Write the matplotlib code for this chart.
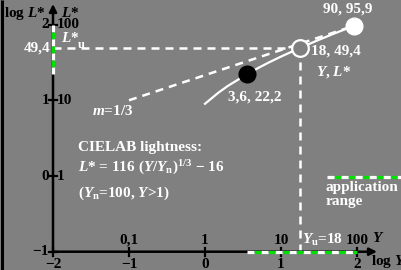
import numpy as np
import matplotlib.pyplot as plt

BG = "#808080"
GREEN = "#00e000"

plt.rcParams["font.family"] = "Liberation Serif"
plt.rcParams["font.weight"] = "bold"
plt.rcParams["font.size"] = 11
plt.rcParams["mathtext.fontset"] = "custom"
plt.rcParams["mathtext.rm"] = "Liberation Serif:bold"
plt.rcParams["mathtext.it"] = "Liberation Serif:italic:bold"
plt.rcParams["mathtext.bf"] = "Liberation Serif:bold"

# axes ticks (log units) and labels
log_y_ticks = [-2, -1, 0, 1, 2]
y_top_labels = ["0,1", "1", "10", "100"]          # at log Y = -1 .. 2
log_l_ticks = [-1, 0, 1, 2]
l_right_labels = ["1", "10", "100"]               # at log L* = 0 .. 2

# CIELAB lightness curve
curve_Y = [1, 1.5, 2, 3.6, 5, 7, 10, 18, 30, 50, 90, 100]
curve_L = [9.0, 12.6, 15.5, 22.2, 26.7, 31.8, 37.8, 49.4, 61.7, 76.1, 95.9, 100]

# straight line with slope m = 1/3
slope_Y = [0.1, 90]
slope_L = [10.0, 95.9]

# marked points: dark, middle (Yu), white
pt_Y = [3.6, 18, 90]
pt_L = [22.2, 49.4, 95.9]

# application range
app_Y = [3.6, 100]
app_L = [22.2, 100]

lg = np.log10


# pixel -> data helpers for text placement
def px(x):
    return (x - 205) / 76


def py(y):
    return (176 - y) / 75.7


fig = plt.figure(figsize=(4.02, 2.70), dpi=100, facecolor=BG)
ax = fig.add_axes([0, 0, 1, 1])
ax.set_facecolor(BG)
ax.set_xlim(px(0), px(402))
ax.set_ylim(py(270), py(0))
ax.axis("off")

# left border
ax.plot([px(1.5), px(1.5)], [py(0), py(270)], color="black", lw=2.2, solid_capstyle="butt")

# dashed helper lines through Yu point
dash = (0, (3.2, 2.4))
ax.plot([-2, lg(pt_Y[1])], [lg(pt_L[1])] * 2, color="white", lw=1.8, ls=dash)
ax.plot([lg(pt_Y[1])] * 2, [-1, lg(pt_L[1])], color="white", lw=1.8, ls=dash)
ax.plot(lg(slope_Y), lg(slope_L), color="white", lw=1.8, ls=dash)

# lightness curve
ax.plot(lg(curve_Y), lg(curve_L), color="white", lw=1.6)

# axes with arrows
ax.annotate("", xy=(-2, py(4)), xytext=(-2, -1),
            arrowprops=dict(arrowstyle="-|>", color="black", lw=1.8, mutation_scale=11,
                            shrinkA=0, shrinkB=0))
ax.annotate("", xy=(px(377), -1), xytext=(-2, -1),
            arrowprops=dict(arrowstyle="-|>", color="black", lw=1.8, mutation_scale=11,
                            shrinkA=0, shrinkB=0))
for t in log_y_ticks:
    ax.plot([t, t], [-1 - 0.055, -1 + 0.055], color="black", lw=1.6, zorder=3.5)
for t in log_l_ticks:
    ax.plot([-2 - 0.055, -2 + 0.055], [t, t], color="black", lw=1.6, zorder=3.5)

# application range on both axes
app_style = dict(color="white", gapcolor=GREEN, lw=2.3, ls=(0, (2.2, 2.2)), zorder=4)
ax.plot(lg(app_Y), [-1, -1], **app_style)
ax.plot([-2, -2], lg(app_L), **app_style)
ax.plot([px(327), px(405)], [py(177), py(177)], **app_style)

# points
ax.plot(lg(pt_Y[0]), lg(pt_L[0]), "o", ms=12, mfc="black", mec="black", zorder=5)
ax.plot(lg(pt_Y[1]), lg(pt_L[1]), "o", ms=12, mfc=BG, mec="white", mew=1.6, zorder=5)
ax.plot(lg(pt_Y[2]), lg(pt_L[2]), "o", ms=12, mfc="white", mec="white", zorder=5)

# tick labels
for t, lab in zip(log_y_ticks, ["\u22122", "\u22121", "0", "1", "2"]):
    ax.text(t, py(264), lab, ha="center", va="center")
for t, lab in zip(log_y_ticks[1:], y_top_labels):
    ax.text(t, py(240), lab, ha="center", va="center")
for t, lab in zip(log_l_ticks, ["\u22121", "0", "1", "2"]):
    ax.text(px(49), t, lab, ha="right", va="center")
for t, lab in zip(log_l_ticks[1:], l_right_labels):
    ax.text(px(57), t, lab, ha="left", va="center")

ax.text(px(4), py(13), "log $L$*", ha="left", va="center")
ax.text(px(61), py(13), "$L$*", ha="left", va="center")
ax.text(px(372), py(238), "$Y$", ha="left", va="center")
ax.text(px(371), py(262), "log $Y$", ha="left", va="center")

# white annotations
w = dict(color="white", va="center")
ax.text(px(50), lg(pt_L[1]), "49,4", ha="right", **w)
ax.text(px(61), py(38), "$L$*", ha="left", **w)
ax.text(px(78), py(45), "u", ha="left", fontsize=9, **w)
ax.text(px(92), py(111), "$m$=1/3", ha="left", **w)
ax.text(px(348), py(9), "90, 95,9", ha="center", **w)
ax.text(px(311), py(51), "18, 49,4", ha="left", **w)
ax.text(px(316), py(72), "$Y$, $L$*", ha="left", **w)
ax.text(px(228), py(97), "3,6, 22,2", ha="left", **w)
ax.text(px(78), py(148), "CIELAB lightness:", ha="left", **w)
ax.text(px(78), py(168), "$L$* = 116 ($Y$/$Y_\\mathrm{n}$)$^{1/3}$ \u2212 16", ha="left", **w)
ax.text(px(78), py(193), "($Y_\\mathrm{n}$=100, $Y$>1)", ha="left", **w)
ax.text(px(302), py(240), "$Y_\\mathrm{u}$=18", ha="left", **w)
ax.text(px(326), py(188), "application", ha="left", **w)
ax.text(px(326), py(201), "range", ha="left", **w)

# clipped heading at the very top
ax.text(px(215), py(-6), "CIELAB lightness range and range for achromatic colours",
        ha="center", va="center", color="black")

fig.savefig("out.png", dpi=100, facecolor=BG)
